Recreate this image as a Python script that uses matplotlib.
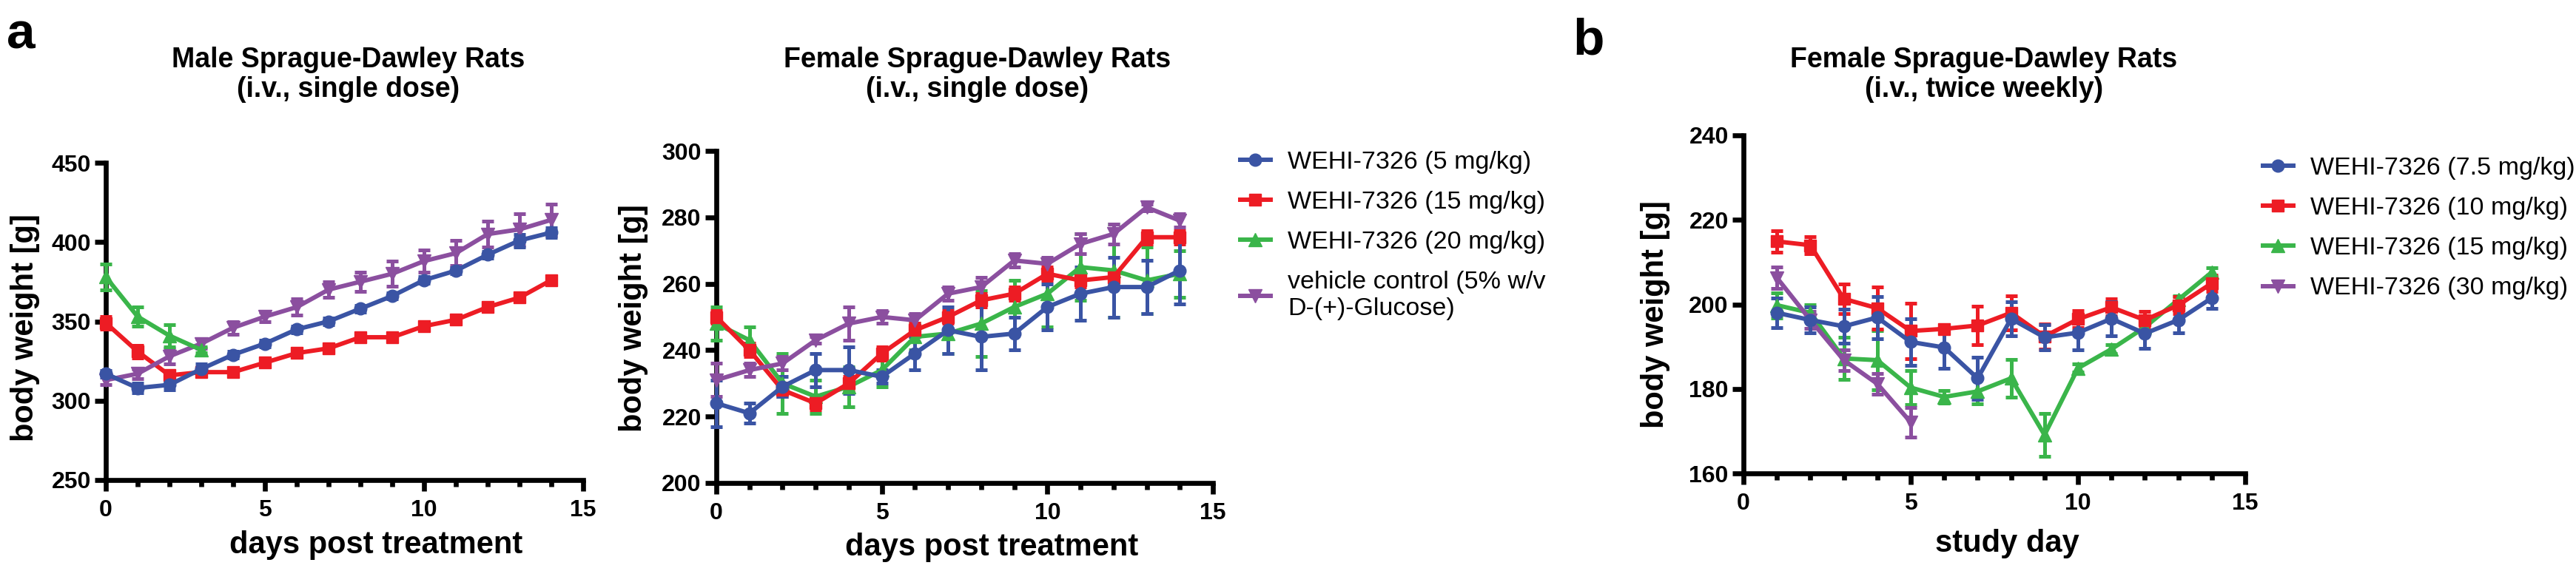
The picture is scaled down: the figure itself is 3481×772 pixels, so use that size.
import matplotlib
matplotlib.use("Agg")
import matplotlib.pyplot as plt
from matplotlib.ticker import MultipleLocator

plt.rcParams['font.family'] = ['Liberation Sans', 'DejaVu Sans']
plt.rcParams['font.weight'] = 'bold'

BLUE = '#3a54a4'
RED = '#ed1c24'
GREEN = '#3ab54a'
PURPLE = '#8b4f9f'

W, H = 3481, 772

# ---- panel a (left): male rats, single dose ----
male_days = list(range(15))
male_5 = [317, 308, 310, 320, 329, 336, 345, 350, 358, 366, 376, 382, 392, 401, 406]
male_5_err = [2, 3, 3, 3, 2, 2, 2, 2, 2, 2, 2, 2, 2, 4, 3]
male_15 = [349, 331, 316, 318, 318, 324, 330, 333, 340, 340, 347, 351, 359, 365, 376]
male_15_err = [4, 4, 2, 2, 2, 2, 2, 2, 2, 2, 2, 2, 2, 2, 2]
male_20_days = [0, 1, 2, 3]
male_20 = [378, 353, 341, 332]
male_20_err = [8, 6, 7, 2]
male_veh = [313, 317, 328, 336, 346, 353, 359, 370, 375, 380, 388, 393, 405, 408, 414]
male_veh_err = [3, 3, 5, 3, 4, 3, 5, 5, 6, 8, 7, 8, 8, 10, 10]

# ---- panel a (right): female rats, single dose ----
fem_days = list(range(15))
fem_5 = [224, 221, 229, 234, 234, 232, 239, 246, 244, 245, 253, 257, 259, 259, 264]
fem_5_err = [7, 3, 3, 5, 7, 2, 5, 7, 10, 5, 7, 8, 9, 8, 10]
fem_15 = [250, 240, 228, 224, 230, 239, 246, 250, 255, 257, 263, 261, 262, 274, 274]
fem_15_err = [2, 2, 2, 2, 2, 2, 2, 2, 2, 2, 2, 2, 2, 2, 2]
fem_20 = [248, 243, 230, 226, 229, 234, 244, 245, 248, 253, 257, 265, 264, 261, 263]
fem_20_err = [5, 4, 9, 5, 6, 5, 4, 6, 10, 8, 10, 10, 14, 10, 7]
fem_veh = [231, 234, 236, 243, 248, 250, 249, 257, 259, 267, 266, 272, 275, 283, 279]
fem_veh_err = [5, 2, 2, 1, 5, 2, 2, 2, 3, 2, 2, 3, 3, 1, 2]

# ---- panel b: female rats, twice weekly ----
b_days = list(range(1, 15))
b_75 = [198, 196.3, 194.8, 196.9, 191.1, 189.8, 182.5, 196.6, 192.2, 193.3, 196.6, 193.1, 196.3, 201.5]
b_75_err = [3.5, 3, 4, 5, 5.5, 5, 5, 4, 3, 4, 4, 3.5, 3, 2.5]
b_10 = [214.9, 214, 201.3, 199.1, 193.7, 194.2, 195, 198, 192.4, 196.5, 199.3, 196.3, 199.8, 205]
b_10_err = [2.5, 2, 3.5, 5, 6.5, 1, 4.5, 4, 3, 2, 2, 2, 2, 2]
b_15 = [199.8, 198, 187.2, 186.8, 180.3, 178.1, 179.4, 182.5, 169.1, 184.9, 189.4, 194.6, 201.1, 207.6]
b_15_err = [3, 2, 5, 7, 4, 1.5, 3, 4.5, 5, 1, 1, 1, 1, 1]
b_30_days = [1, 2, 3, 4, 5]
b_30 = [206.3, 196.3, 186.8, 181.2, 172.1]
b_30_err = [2.5, 2, 2.5, 2.5, 3.5]

fig = plt.figure(figsize=(W / 100, H / 100), dpi=100)

LW = 4.3
SPINE = 4.8
MS = {'o': 12, 's': 11, '^': 13, 'v': 13}


def px_axes(left, right, top, bottom):
    # pixel box -> figure fraction box
    return fig.add_axes([left / W, 1 - bottom / H, (right - left) / W, (bottom - top) / H])


def draw(ax, x, y, err, color, marker, label):
    ax.errorbar(x, y, yerr=err, fmt='none', ecolor=color, elinewidth=3.6,
                capsize=5.5, capthick=3.6, clip_on=False, zorder=3)
    ax.plot(x, y, color=color, marker=marker, ms=MS[marker], lw=LW, clip_on=False,
            label=label, zorder=4)


def style(ax, ylim, ystep):
    ax.set_xlim(0, 15)
    ax.set_ylim(*ylim)
    ax.xaxis.set_major_locator(MultipleLocator(5))
    ax.xaxis.set_minor_locator(MultipleLocator(1))
    ax.yaxis.set_major_locator(MultipleLocator(ystep))
    for s in ['top', 'right']:
        ax.spines[s].set_visible(False)
    for s in ['left', 'bottom']:
        ax.spines[s].set_linewidth(SPINE)
    ax.tick_params(which='major', width=SPINE, length=11, labelsize=23)
    ax.tick_params(axis='x', which='major', pad=8)
    ax.tick_params(axis='y', which='major', pad=3.5)
    ax.tick_params(axis='x', which='minor', width=SPINE, length=6.5)


def legend(ax, order, x0, y0):
    h, l = ax.get_legend_handles_labels()
    leg = ax.legend([h[i] for i in order], [l[i] for i in order], loc='upper left',
                    bbox_to_anchor=(x0 / W, 1 - y0 / H),
                    bbox_transform=fig.transFigure, frameon=False,
                    prop={'weight': 'normal', 'size': 24.5}, handlelength=1.2,
                    handletextpad=0.68, labelspacing=0.68, borderaxespad=0,
                    borderpad=0)
    return leg


# left panel a
ax1 = px_axes(143, 788, 220, 649)
draw(ax1, male_days, male_15, male_15_err, RED, 's', None)
draw(ax1, male_days, male_veh, male_veh_err, PURPLE, 'v', None)
draw(ax1, male_days, male_5, male_5_err, BLUE, 'o', None)
draw(ax1, male_20_days, male_20, male_20_err, GREEN, '^', None)
style(ax1, (250, 450), 50)

# right panel a
ax2 = px_axes(968, 1639, 204, 653)
draw(ax2, fem_days, fem_20, fem_20_err, GREEN, '^', 'WEHI-7326 (20 mg/kg)')
draw(ax2, fem_days, fem_15, fem_15_err, RED, 's', 'WEHI-7326 (15 mg/kg)')
draw(ax2, fem_days, fem_veh, fem_veh_err, PURPLE, 'v',
     'vehicle control (5% w/v\nD-(+)-Glucose)')
draw(ax2, fem_days, fem_5, fem_5_err, BLUE, 'o', 'WEHI-7326 (5 mg/kg)')
style(ax2, (200, 300), 20)
legend(ax2, [3, 1, 0, 2], 1676, 204)

# panel b
ax3 = px_axes(2356, 3034, 183, 640)
draw(ax3, b_days, b_15, b_15_err, GREEN, '^', 'WEHI-7326 (15 mg/kg)')
draw(ax3, b_30_days, b_30, b_30_err, PURPLE, 'v', 'WEHI-7326 (30 mg/kg)')
draw(ax3, b_days, b_10, b_10_err, RED, 's', 'WEHI-7326 (10 mg/kg)')
draw(ax3, b_days, b_75, b_75_err, BLUE, 'o', 'WEHI-7326 (7.5 mg/kg)')
style(ax3, (160, 240), 20)
legend(ax3, [3, 2, 0, 1], 3058, 212)


def ftext(x, y, s, **kw):
    fig.text(x / W, 1 - y / H, s, ha='center', va='center', **kw)


# titles
ftext(471, 101, 'Male Sprague-Dawley Rats\n(i.v., single dose)', fontsize=27,
      linespacing=1.12)
ftext(1321, 101, 'Female Sprague-Dawley Rats\n(i.v., single dose)', fontsize=27,
      linespacing=1.12)
ftext(2681, 101, 'Female Sprague-Dawley Rats\n(i.v., twice weekly)', fontsize=27,
      linespacing=1.12)

# axis labels
ftext(34, 443, 'body weight [g]', rotation=90, fontsize=30)
ftext(856, 430, 'body weight [g]', rotation=90, fontsize=30)
ftext(2237, 425, 'body weight [g]', rotation=90, fontsize=30)
ftext(508, 737, 'days post treatment', fontsize=30)
ftext(1340, 740, 'days post treatment', fontsize=30)
ftext(2712, 735, 'study day', fontsize=30)

# panel letters
fig.text(28 / W, 1 - 65 / H, 'a', fontsize=50, ha='center', va='baseline')
fig.text(2147 / W, 1 - 74 / H, 'b', fontsize=50, ha='center', va='baseline')

fig.savefig('out.png', dpi=100)
